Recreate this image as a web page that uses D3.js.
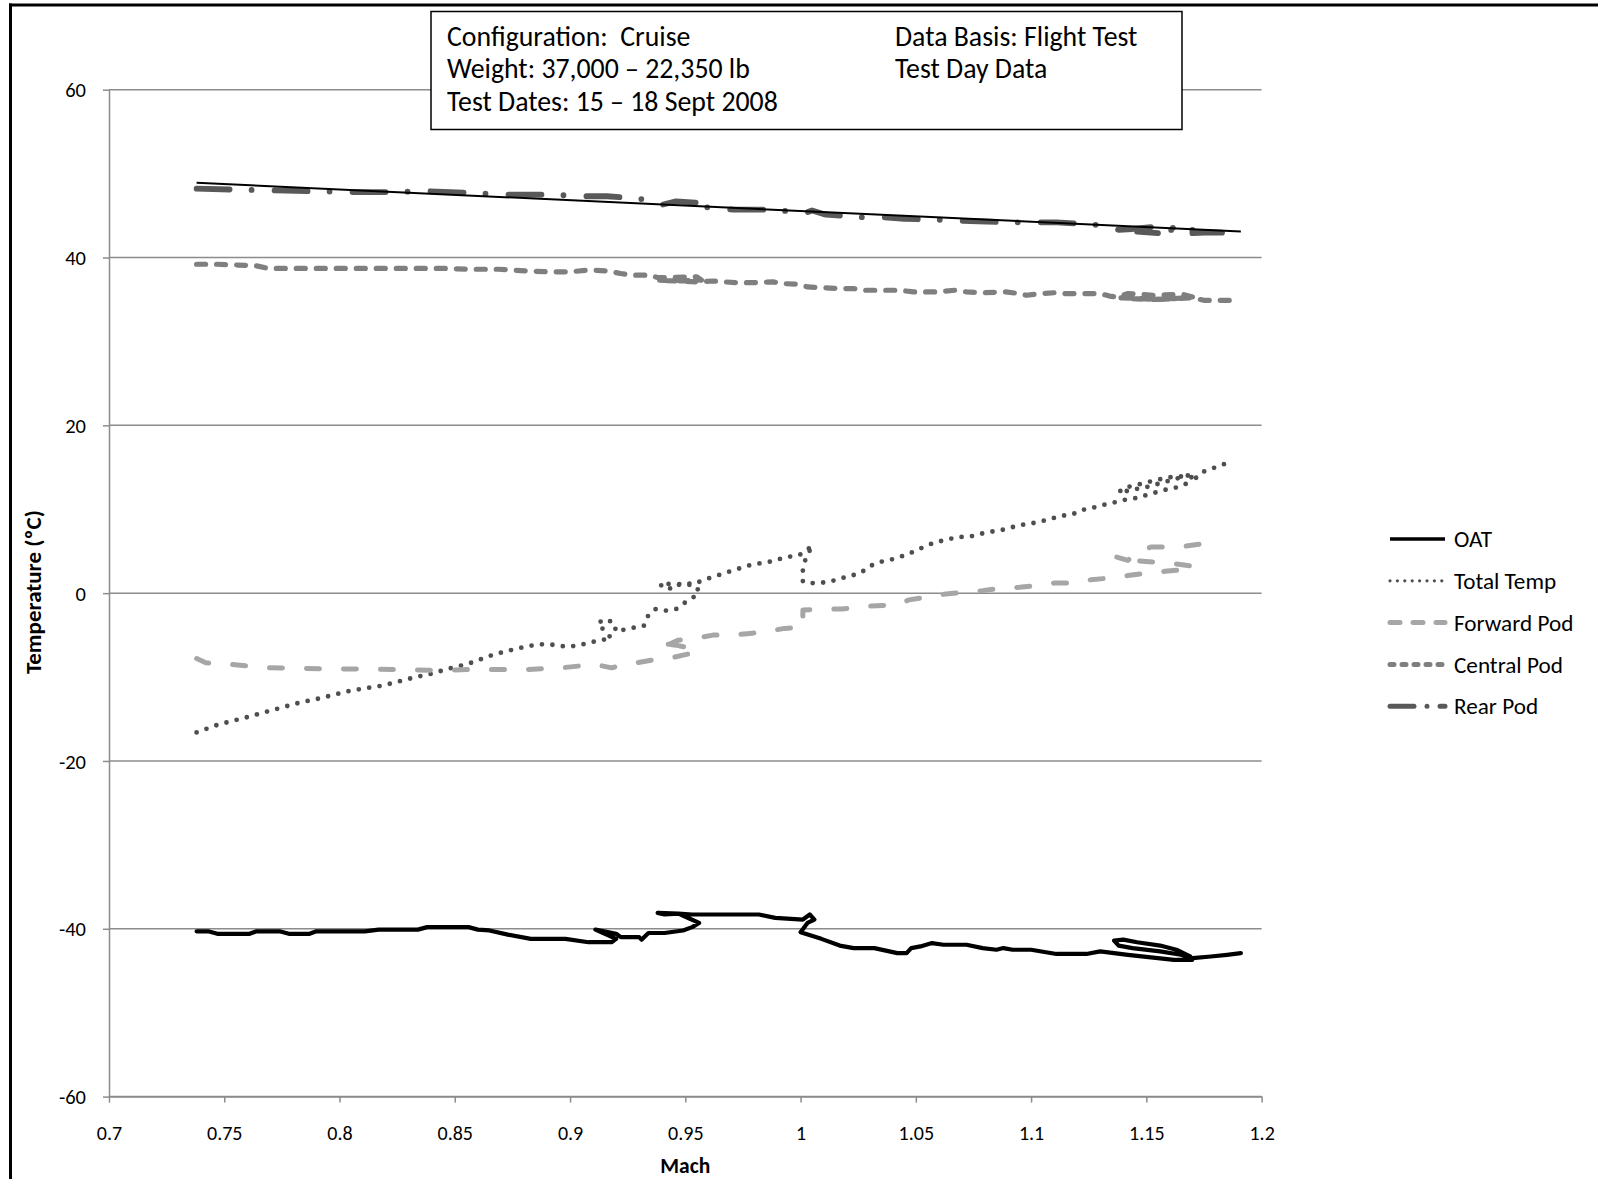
<!DOCTYPE html>
<html>
<head>
<meta charset="utf-8">
<script src="https://cdn.jsdelivr.net/npm/d3@7"></script>
<style>
  html, body { margin: 0; padding: 0; background: #fff; }
  svg { display: block; }
  text { font-family: Carlito, Calibri, "Liberation Sans", Arial, sans-serif; fill: #000; white-space: pre; }
</style>
</head>
<body>
<svg id="chart"></svg>
<script>
// ---- data (Mach, temperature degC) ----
const xTicks = [0.7, 0.75, 0.8, 0.85, 0.9, 0.95, 1, 1.05, 1.1, 1.15, 1.2];
const yTicks = [-60, -40, -20, 0, 20, 40, 60];

const seriesNames = ["OAT", "Total Temp", "Forward Pod", "Central Pod", "Rear Pod"];

const oat = [[0.738,-40.3],[0.743,-40.3],[0.747,-40.6],[0.761,-40.6],[0.764,-40.3],[0.774,-40.3],[0.778,-40.6],[0.787,-40.6],[0.790,-40.3],[0.811,-40.3],[0.817,-40.1],[0.834,-40.1],[0.838,-39.8],[0.856,-39.8],[0.860,-40.1],[0.865,-40.2],[0.873,-40.7],[0.883,-41.2],[0.898,-41.2],[0.908,-41.6],[0.918,-41.6],[0.920,-41.2],[0.911,-40.1],[0.920,-40.6],[0.922,-41.0],[0.930,-41.0],[0.931,-41.3],[0.934,-40.5],[0.941,-40.5],[0.949,-40.2],[0.953,-39.8],[0.956,-39.3],[0.952,-38.8],[0.947,-38.2],[0.938,-38.1],[0.941,-38.3],[0.947,-38.2],[0.953,-38.3],[0.982,-38.3],[0.989,-38.7],[1.001,-38.9],[1.004,-38.3],[1.006,-38.9],[1.003,-39.3],[1.000,-40.4],[1.009,-41.2],[1.017,-42.0],[1.023,-42.3],[1.032,-42.3],[1.042,-42.9],[1.046,-42.9],[1.048,-42.3],[1.052,-42.1],[1.057,-41.7],[1.062,-41.9],[1.072,-41.9],[1.079,-42.3],[1.085,-42.5],[1.088,-42.3],[1.092,-42.5],[1.100,-42.5],[1.111,-43.0],[1.124,-43.0],[1.130,-42.7],[1.142,-43.1],[1.155,-43.5],[1.162,-43.7],[1.170,-43.7],[1.169,-43.3],[1.163,-42.5],[1.156,-42.0],[1.146,-41.6],[1.140,-41.3],[1.136,-41.4],[1.138,-42.0],[1.144,-42.3],[1.156,-42.7],[1.165,-43.1],[1.170,-43.5],[1.178,-43.3],[1.185,-43.1],[1.191,-42.9]];

const totalTemp = [[0.738,-16.6],[0.747,-15.7],[0.761,-14.7],[0.774,-13.7],[0.782,-13.1],[0.792,-12.5],[0.805,-11.6],[0.819,-11.0],[0.833,-10.0],[0.840,-9.6],[0.846,-9.1],[0.856,-8.4],[0.867,-7.3],[0.877,-6.6],[0.886,-6.1],[0.891,-6.1],[0.899,-6.4],[0.904,-6.2],[0.913,-5.6],[0.918,-5.4],[0.915,-4.5],[0.912,-3.6],[0.915,-3.1],[0.919,-3.5],[0.920,-4.6],[0.924,-4.3],[0.932,-3.9],[0.934,-2.6],[0.937,-1.9],[0.941,-2.1],[0.946,-1.9],[0.950,-1.1],[0.954,-0.4],[0.956,0.3],[0.953,1.1],[0.948,1.2],[0.945,0.6],[0.941,0.5],[0.939,1.1],[0.944,1.1],[0.950,0.9],[0.954,1.1],[0.958,1.6],[0.963,2.0],[0.967,2.4],[0.972,2.8],[0.976,3.2],[0.981,3.5],[0.986,3.7],[0.990,4.0],[0.994,4.3],[0.999,4.5],[1.002,4.9],[1.005,5.7],[1.002,3.9],[1.001,2.7],[1.001,1.4],[1.003,1.2],[1.008,1.2],[1.013,1.4],[1.018,1.8],[1.021,2.0],[1.026,2.4],[1.030,3.2],[1.034,3.7],[1.038,3.9],[1.043,4.3],[1.047,4.7],[1.051,5.2],[1.055,5.7],[1.059,6.1],[1.064,6.4],[1.068,6.7],[1.073,6.7],[1.077,7.0],[1.082,7.3],[1.087,7.5],[1.091,7.8],[1.095,8.1],[1.100,8.3],[1.105,8.6],[1.109,8.9],[1.113,9.2],[1.118,9.4],[1.122,9.9],[1.127,10.2],[1.131,10.5],[1.136,10.8],[1.140,11.1],[1.145,11.3],[1.149,11.6],[1.154,12.0],[1.158,12.3],[1.163,12.6],[1.167,13.0],[1.170,13.8],[1.167,13.9],[1.162,13.9],[1.158,13.7],[1.153,13.4],[1.149,13.1],[1.144,12.8],[1.140,12.5],[1.138,12.0],[1.142,12.2],[1.147,12.5],[1.151,12.7],[1.156,13.1],[1.160,13.4],[1.165,13.8],[1.169,14.1],[1.171,13.6],[1.174,14.4],[1.178,14.8],[1.183,15.3],[1.187,15.7]];

const forwardPod = [[0.738,-7.8],[0.742,-8.3],[0.753,-8.5],[0.769,-8.9],[0.792,-9.0],[0.823,-9.1],[0.840,-9.2],[0.858,-9.1],[0.881,-9.1],[0.896,-8.9],[0.911,-8.5],[0.918,-8.9],[0.924,-8.5],[0.929,-8.3],[0.937,-7.9],[0.944,-7.7],[0.952,-7.2],[0.955,-6.7],[0.946,-6.2],[0.938,-5.9],[0.943,-6.1],[0.947,-5.6],[0.954,-5.4],[0.962,-5.0],[0.970,-5.0],[0.978,-4.8],[0.985,-4.6],[0.993,-4.2],[1.001,-4.1],[1.001,-3.2],[1.001,-2.0],[1.011,-1.9],[1.018,-1.9],[1.026,-1.6],[1.033,-1.5],[1.042,-1.4],[1.047,-0.8],[1.056,-0.4],[1.063,-0.1],[1.071,0.1],[1.079,0.3],[1.087,0.6],[1.095,0.7],[1.103,0.9],[1.110,1.2],[1.118,1.2],[1.126,1.6],[1.134,1.8],[1.142,2.1],[1.150,2.4],[1.158,2.6],[1.166,2.8],[1.171,3.2],[1.162,3.5],[1.154,3.7],[1.144,3.9],[1.137,4.3],[1.142,3.9],[1.145,4.7],[1.152,5.5],[1.160,5.5],[1.167,5.6],[1.175,5.9],[1.183,6.3]];

const centralPod = [[0.738,39.2],[0.747,39.2],[0.756,39.1],[0.764,39.0],[0.769,38.7],[0.780,38.7],[0.846,38.7],[0.856,38.6],[0.869,38.6],[0.881,38.4],[0.891,38.3],[0.900,38.3],[0.908,38.5],[0.916,38.4],[0.922,38.1],[0.927,37.9],[0.935,37.9],[0.938,37.6],[0.955,37.7],[0.957,37.3],[0.945,37.2],[0.938,37.3],[0.955,37.1],[0.962,37.2],[0.972,37.0],[0.980,37.0],[0.988,37.1],[0.992,36.9],[0.999,36.8],[1.003,36.5],[1.009,36.4],[1.017,36.3],[1.023,36.3],[1.027,36.1],[1.032,36.1],[1.043,36.1],[1.049,35.9],[1.059,35.9],[1.067,36.1],[1.072,35.9],[1.078,35.8],[1.089,35.9],[1.095,35.7],[1.098,35.5],[1.104,35.7],[1.110,35.8],[1.115,35.7],[1.130,35.7],[1.134,35.4],[1.137,35.3],[1.142,35.7],[1.153,35.5],[1.166,35.6],[1.170,35.3],[1.162,35.1],[1.153,35.0],[1.143,35.1],[1.139,35.2],[1.147,35.1],[1.156,35.0],[1.170,35.2],[1.175,34.9],[1.183,34.9],[1.190,34.9]];

const rearPod = [[0.738,48.2],[0.753,48.1],[0.772,48.0],[0.788,47.9],[0.805,47.8],[0.822,47.8],[0.839,47.9],[0.856,47.7],[0.873,47.5],[0.891,47.5],[0.907,47.3],[0.916,47.3],[0.926,47.1],[0.937,46.8],[0.940,46.3],[0.946,46.7],[0.957,46.5],[0.955,46.1],[0.971,45.7],[0.988,45.7],[1.002,45.3],[1.005,45.6],[1.011,45.1],[1.027,44.8],[1.036,44.8],[1.045,44.6],[1.061,44.5],[1.068,44.4],[1.077,44.3],[1.094,44.2],[1.102,44.2],[1.111,44.2],[1.128,43.9],[1.138,43.3],[1.144,43.4],[1.155,43.7],[1.163,43.5],[1.160,43.0],[1.155,42.9],[1.146,43.1],[1.153,43.2],[1.162,43.3],[1.170,43.5],[1.170,42.9],[1.178,43.0],[1.191,42.9]];

// thin black trend line over the rear pod data
const trend = [[0.738,48.9],[1.191,43.1]];

const infoLeft = ["Configuration:  Cruise", "Weight: 37,000 \u2013 22,350 lb", "Test Dates: 15 \u2013 18 Sept 2008"];
const infoRight = ["Data Basis: Flight Test", "Test Day Data"];

// ---- layout ----
const WIDTH = 1598;
const HEIGHT = 1179;
const PLOT = { LEFT: 109, RIGHT: 1261.6, TOP: 89.7, BOTTOM: 1096.6 };
const GRID = "#8c8c8c";
const FONT = "Carlito, Calibri, 'Liberation Sans', Arial, sans-serif";

// line styles per series
const STYLES = {
  "OAT":         { color: "#000000", width: 4.2, dash: null,         legendDash: null },
  "Total Temp":  { color: "#4f4f4f", width: 4.8, dash: "0 10.5",     legendDash: "0 7.4" },
  "Forward Pod": { color: "#a6a6a6", width: 5,   dash: "13 24",      legendDash: "10 13" },
  "Central Pod": { color: "#7f7f7f", width: 5.2, dash: "9 11",       legendDash: "4 8" },
  "Rear Pod":    { color: "#595959", width: 5.8, dash: "33 22 0 23", legendDash: "24 13 0 13" }
};
const seriesData = {
  "OAT": oat,
  "Total Temp": totalTemp,
  "Forward Pod": forwardPod,
  "Central Pod": centralPod,
  "Rear Pod": rearPod
};

let svg = d3.select("#chart")
  .attr("width", WIDTH)
  .attr("height", HEIGHT);

let xScale = d3.scaleLinear()
  .domain([0.7, 1.2])
  .range([PLOT.LEFT, PLOT.RIGHT]);
let yScale = d3.scaleLinear()
  .domain([-60, 60])
  .range([PLOT.BOTTOM, PLOT.TOP]);

// gridlines
svg.append("g")
  .selectAll("line")
  .data(yTicks)
  .enter()
    .append("line")
    .attr("x1", PLOT.LEFT)
    .attr("x2", PLOT.RIGHT)
    .attr("y1", d => yScale(d))
    .attr("y2", d => yScale(d))
    .attr("stroke", GRID)
    .attr("stroke-width", 1.5);

// y axis (plain hyphen for negatives, as in the original)
let yAxis = svg.append("g")
  .attr("transform", `translate(${PLOT.LEFT},0)`)
  .call(d3.axisLeft(yScale).tickValues(yTicks).tickSize(6).tickSizeOuter(0).tickFormat(d => String(d)));
yAxis.selectAll("path, line").attr("stroke", GRID).attr("stroke-width", 1.5);
yAxis.selectAll("text")
  .attr("x", -23)
  .attr("dy", "0.35em")
  .style("font-size", "20.5px")
  .style("font-family", FONT)
  .attr("fill", "#000");

// x axis
let xAxis = svg.append("g")
  .attr("transform", `translate(0,${PLOT.BOTTOM})`)
  .call(d3.axisBottom(xScale).tickValues(xTicks).tickSize(6).tickSizeOuter(0).tickFormat(d => String(+d.toFixed(2))));
xAxis.selectAll("path, line").attr("stroke", GRID).attr("stroke-width", 1.5);
xAxis.selectAll("text")
  .attr("y", 43)
  .attr("dy", 0)
  .style("font-size", "20px")
  .style("font-family", FONT)
  .attr("fill", "#000");

// axis titles
svg.append("text")
  .attr("x", (PLOT.LEFT + PLOT.RIGHT) / 2)
  .attr("y", 1173)
  .style("text-anchor", "middle")
  .style("font-size", "21.5px")
  .style("font-weight", "bold")
  .text("Mach");

svg.append("text")
  .attr("transform", `translate(41,${(PLOT.TOP + PLOT.BOTTOM) / 2 - 1}) rotate(-90)`)
  .style("text-anchor", "middle")
  .style("font-size", "23px")
  .style("font-weight", "bold")
  .text("Temperature (\u00baC)");

// series lines
let line = d3.line()
  .x(d => xScale(d[0]))
  .y(d => yScale(d[1]));

let drawOrder = ["OAT", "Total Temp", "Forward Pod", "Central Pod", "Rear Pod"];
drawOrder.forEach(function(name) {
  let st = STYLES[name];
  svg.append("path")
    .datum(seriesData[name])
    .attr("d", line)
    .attr("fill", "none")
    .attr("stroke", st.color)
    .attr("stroke-width", st.width)
    .attr("stroke-linecap", "round")
    .attr("stroke-linejoin", "round")
    .attr("stroke-dasharray", st.dash);
});

svg.append("path")
  .datum(trend)
  .attr("d", line)
  .attr("fill", "none")
  .attr("stroke", "#000")
  .attr("stroke-width", 2);

// info box
svg.append("rect")
  .attr("x", 431)
  .attr("y", 11.5)
  .attr("width", 751)
  .attr("height", 118)
  .attr("fill", "#fff")
  .attr("stroke", "#000")
  .attr("stroke-width", 1.5);

svg.append("g")
  .selectAll("text")
  .data(infoLeft)
  .enter()
    .append("text")
    .attr("x", 447)
    .attr("y", (d, i) => 45.5 + i * 32.6)
    .style("font-size", "27.8px")
    .text(d => d);

svg.append("g")
  .selectAll("text")
  .data(infoRight)
  .enter()
    .append("text")
    .attr("x", 895)
    .attr("y", (d, i) => 45.5 + i * 32.6)
    .style("font-size", "27.8px")
    .text(d => d);

// legend
let legend = svg.append("g");
seriesNames.forEach(function(name, i) {
  let st = STYLES[name];
  let y = 539 + i * 41.8;
  legend.append("line")
    .attr("x1", 1390)
    .attr("x2", 1445)
    .attr("y1", y)
    .attr("y2", y)
    .attr("stroke", st.color)
    .attr("stroke-width", name === "Total Temp" ? 3.2 : (name === "OAT" ? 3.5 : 5))
    .attr("stroke-linecap", name === "OAT" ? "butt" : "round")
    .attr("stroke-dasharray", st.legendDash);
  legend.append("text")
    .attr("x", 1454)
    .attr("y", y)
    .attr("dy", "0.35em")
    .style("font-size", "23.2px")
    .text(name);
});

// page frame (top and left rules)
svg.append("line")
  .attr("x1", 9).attr("x2", WIDTH)
  .attr("y1", 5).attr("y2", 5)
  .attr("stroke", "#000").attr("stroke-width", 3);
svg.append("line")
  .attr("x1", 10.5).attr("x2", 10.5)
  .attr("y1", 3.5).attr("y2", HEIGHT)
  .attr("stroke", "#000").attr("stroke-width", 3);
</script>
</body>
</html>
